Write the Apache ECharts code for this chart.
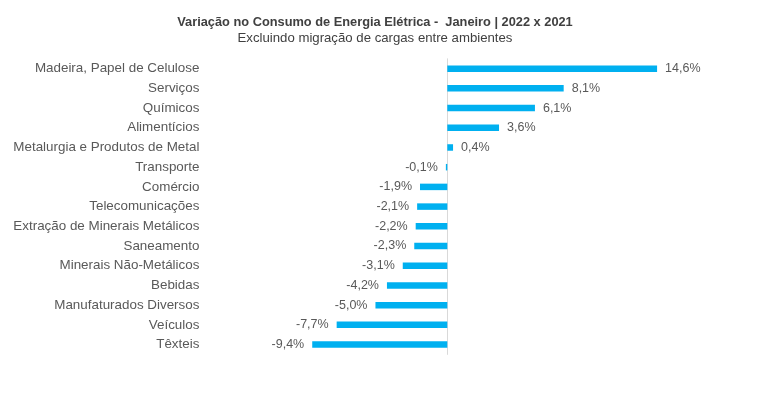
<!DOCTYPE html>
<html><head><meta charset="utf-8">
<script src="https://cdn.jsdelivr.net/npm/echarts@6/dist/echarts.min.js"></script>
<style>html,body{margin:0;padding:0;background:#fff}#c{width:770px;height:394px}</style>
</head><body><div id="c"></div>
<script>
const categories = ["Madeira, Papel de Celulose","Serviços","Químicos","Alimentícios","Metalurgia e Produtos de Metal","Transporte","Comércio","Telecomunicações","Extração de Minerais Metálicos","Saneamento","Minerais Não-Metálicos","Bebidas","Manufaturados Diversos","Veículos","Têxteis"];
const values = [14.6, 8.1, 6.1, 3.6, 0.4, -0.1, -1.9, -2.1, -2.2, -2.3, -3.1, -4.2, -5.0, -7.7, -9.4];
const titleText = "Variação no Consumo de Energia Elétrica -  Janeiro | 2022 x 2021";
const subtitleText = "Excluindo migração de cargas entre ambientes";

const font = "Liberation Sans";
const chart = echarts.init(document.getElementById('c'), null, {renderer:'canvas'});
chart.setOption({
  animation:false,
  title:{
    text:titleText, subtext:subtitleText, left:370, top:11, textAlign:'center', itemGap:3,
    textStyle:{fontFamily:font,fontSize:12.8,fontWeight:'bold',color:'#404040'},
    subtextStyle:{fontFamily:font,fontSize:13.2,color:'#404040'}
  },
  grid:{left:217.4, right:92.8, top:58.8, bottom:39.6, containLabel:false},
  xAxis:{type:'value', min:-16, max:16, show:false},
  yAxis:{type:'category', data:categories, inverse:true,
    axisLine:{show:true, onZero:true, lineStyle:{color:'#d9d9d9'}},
    axisTick:{show:false},
    axisLabel:{fontFamily:font, fontSize:13.4, color:'#595959', margin:18}
  },
  series:[{
    type:'bar', barWidth:6.5,
    data:values.map(v=>({value:v,label:{position:v<0?'left':'right'}})),
    itemStyle:{color:'#00B0F0'},
    label:{show:true, fontFamily:font, fontSize:12.5, color:'#595959', distance:8,
      formatter:p=>p.value.toFixed(1).replace('.',',')+'%'}
  }]
});
</script></body></html>
